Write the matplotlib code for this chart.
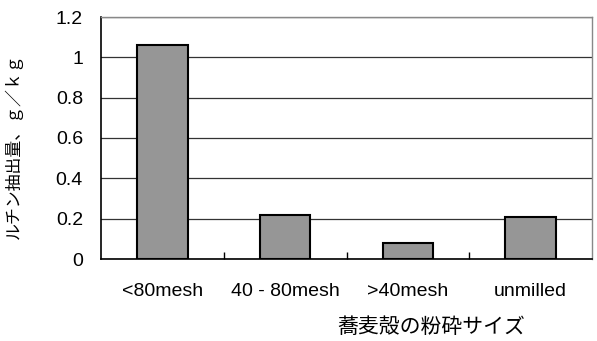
import matplotlib
matplotlib.use("Agg")
import matplotlib.pyplot as plt
import numpy as np

plt.rcParams['font.family'] = ['Liberation Sans', 'Noto Sans CJK JP', 'DejaVu Sans']

# データ
categories = ["<80mesh", "40 - 80mesh", ">40mesh", "unmilled"]
rutin_values = [1.06, 0.22, 0.08, 0.21]
y_ticks = [0, 0.2, 0.4, 0.6, 0.8, 1, 1.2]
y_tick_labels = ["0", "0.2", "0.4", "0.6", "0.8", "1", "1.2"]

fig = plt.figure(figsize=(5.97, 3.41), dpi=100)
ax = fig.add_axes([101 / 597, 1 - 259 / 341, 491 / 597, 242 / 341])

x = np.arange(len(categories))
ax.bar(x, rutin_values, width=0.41, color="#969696", edgecolor="black",
       linewidth=1.5, zorder=3)

ax.set_xlim(-0.5, len(categories) - 0.5)
ax.set_ylim(0, 1.2)
ax.set_yticks(y_ticks)
ax.set_yticklabels(y_tick_labels, fontsize=14)
ax.tick_params(axis="y", length=0, pad=13)
ax.grid(axis="y", color="#333333", linewidth=0.9, zorder=0)

# x軸: 区切りの目盛り(内向き)とラベル
ax.set_xticks(x)
ax.set_xticklabels(categories, fontsize=14)
ax.tick_params(axis="x", which="major", length=0, pad=17)
ax.set_xticks(np.arange(0.5, len(categories) - 1, 1), minor=True)
ax.tick_params(axis="x", which="minor", direction="in", length=5,
               width=1, color="black")

for side in ["top", "right"]:
    ax.spines[side].set_color("#888888")
    ax.spines[side].set_linewidth(1)
ax.spines["left"].set_color("black")
ax.spines["bottom"].set_color("black")
ax.spines["left"].set_linewidth(1.2)
ax.spines["bottom"].set_linewidth(1.2)

ax.set_ylabel("ルチン抽出量、ｇ／ｋｇ", fontsize=12.2,
              family=['Noto Sans CJK JP', 'DejaVu Sans'])
ax.yaxis.set_label_coords(-0.16, 0.465)
ax.set_xlabel("蕎麦殻の粉砕サイズ", fontsize=15,
              family=['Noto Sans CJK JP', 'DejaVu Sans'])
ax.xaxis.set_label_coords((431 - 101) / 491, -0.235)

fig.savefig("out.png", dpi=100)
